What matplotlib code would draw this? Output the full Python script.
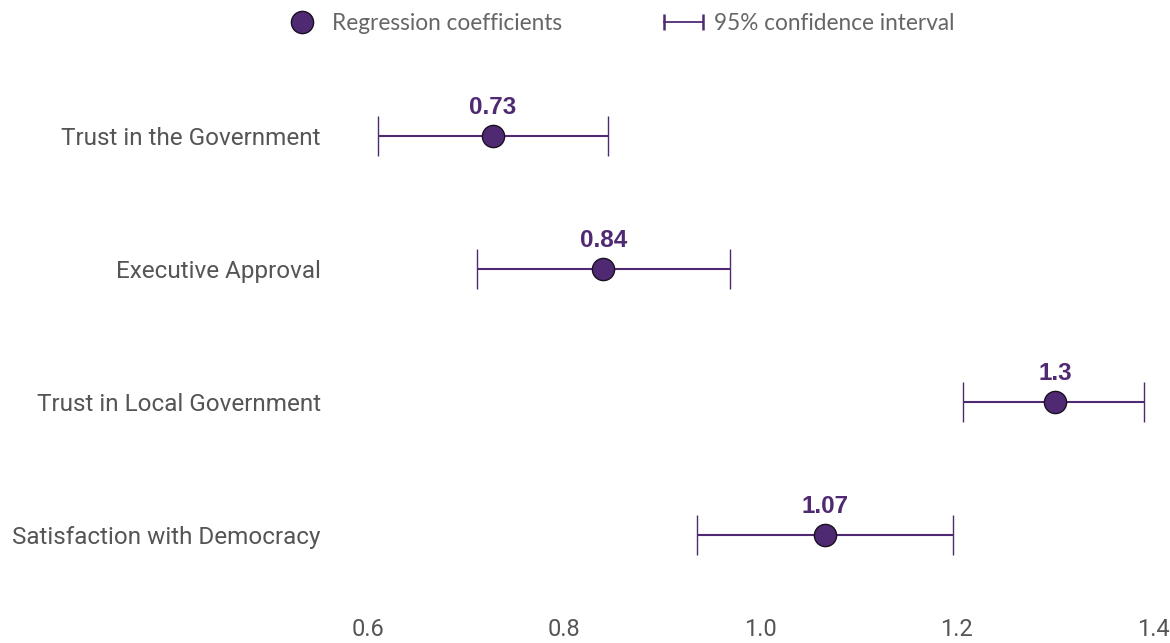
import matplotlib
matplotlib.use("Agg")
from matplotlib import pyplot as plt
from matplotlib.lines import Line2D
from matplotlib.legend_handler import HandlerLine2D

categories = [
    "Trust in the Government",
    "Executive Approval",
    "Trust in Local Government",
    "Satisfaction with Democracy",
]
coefficients = [0.727, 0.84, 1.30, 1.066]
ci_low = [0.61, 0.711, 1.206, 0.935]
ci_high = [0.845, 0.969, 1.391, 1.196]
value_labels = ["0.73", "0.84", "1.3", "1.07"]
x_ticks = [0.6, 0.8, 1.0, 1.2, 1.4]

purple = "#4f2a72"
text_grey = "#555555"

plt.rcParams["font.family"] = ["Roboto", "DejaVu Sans"]

fig = plt.figure(figsize=(11.7, 6.43), dpi=100)
ax = fig.add_axes([0.3145, 0.0645, 0.671, 0.8275])

y = list(range(len(categories)))
err_low = [c - lo for c, lo in zip(coefficients, ci_low)]
err_high = [hi - c for c, hi in zip(coefficients, ci_high)]

ax.errorbar(
    coefficients,
    y,
    xerr=[err_low, err_high],
    fmt="o",
    color=purple,
    ecolor=purple,
    elinewidth=1.5,
    capsize=14.5,
    capthick=1.5,
    markersize=16,
    markerfacecolor=purple,
    markeredgecolor="#1a1020",
    markeredgewidth=1,
    zorder=3,
)

for xi, yi, lab in zip(coefficients, y, value_labels):
    ax.text(
        xi,
        yi - 0.215,
        lab,
        ha="center",
        va="center",
        fontsize=17.5,
        fontweight="bold",
        color=purple,
        family="Liberation Sans",
    )

ax.set_xlim(0.6, 1.4)
ax.set_ylim(len(categories) - 0.5, -0.5)
ax.set_yticks(y)
ax.set_yticklabels(categories)
ax.set_xticks(x_ticks)
ax.set_xticklabels(["{:.1f}".format(t) for t in x_ticks])
ax.tick_params(axis="y", length=0, pad=34, labelsize=17.5, labelcolor=text_grey)
ax.tick_params(axis="x", length=0, pad=12, labelsize=17, labelcolor=text_grey)
for s in ax.spines.values():
    s.set_visible(False)

# Legend
coef_handle = Line2D(
    [], [], marker="o", linestyle="none", markersize=16,
    markerfacecolor=purple, markeredgecolor="#1a1020", markeredgewidth=1,
)
ci_handle = Line2D([], [], marker="|", color=purple, linewidth=1.3, markersize=12, markeredgewidth=1.8)
leg = fig.legend(
    [coef_handle, ci_handle],
    ["Regression coefficients", "95% confidence interval"],
    handler_map={
        ci_handle: HandlerLine2D(numpoints=2, marker_pad=0.0),
        coef_handle: HandlerLine2D(numpoints=1),
    },
    loc="center",
    bbox_to_anchor=(0.5285, 0.964),
    ncol=2,
    frameon=False,
    prop={"family": "Lato", "size": 16.3},
    handlelength=1.7,
    handletextpad=0.5,
    columnspacing=4.5,
    borderpad=0,
)
for t in leg.get_texts():
    t.set_color("#666666")

fig.savefig("out.png", dpi=100)
